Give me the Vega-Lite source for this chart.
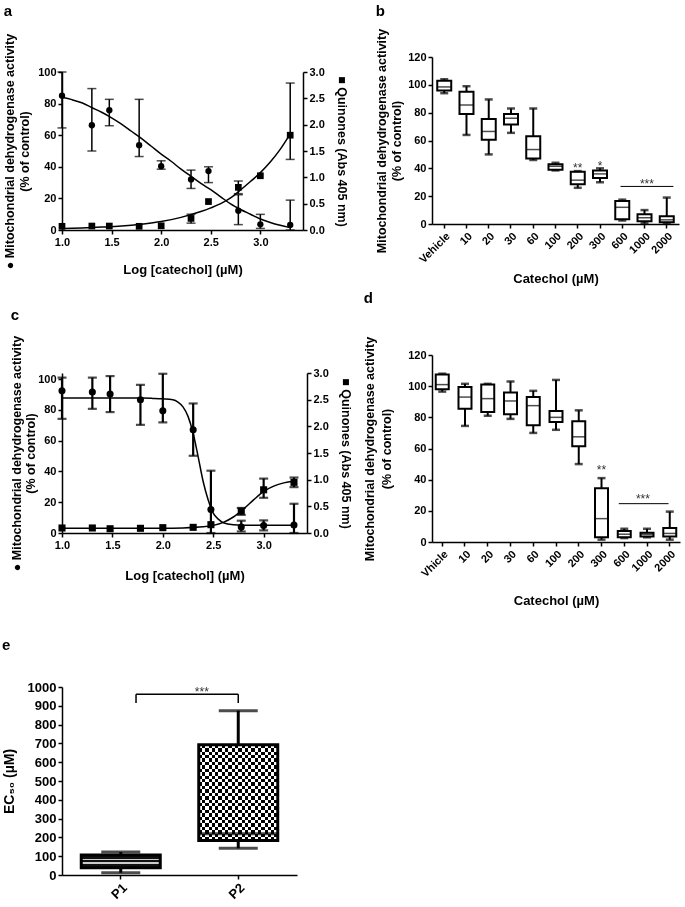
{
"$schema": "https://vega.github.io/schema/vega-lite/v6.json",
"background": "white",
"padding": {"left": 2, "top": 2, "right": 2, "bottom": 0},
"config": {
  "font": "Liberation Sans",
  "view": {"stroke": null},
  "axis": {"domainColor": "black", "domainWidth": 1.5, "tickColor": "black", "tickWidth": 1.5, "tickSize": 4, "labelColor": "black", "labelFont": "Liberation Sans", "labelFontWeight": "bold", "labelFontSize": 11, "labelPadding": 2, "labelOverlap": false, "labelBound": false, "labelFlush": false, "titleColor": "black", "titleFont": "Liberation Sans", "titleFontWeight": "bold", "titleFontSize": 12.5, "grid": false},
  "title": {"anchor": "start", "frame": "bounds", "fontSize": 15, "fontWeight": "bold", "font": "Liberation Sans", "color": "black"}
},
"datasets": {
  "a_m": [
    {"logc": 1.0, "v": 85, "lo": 64.6, "hi": 100},
    {"logc": 1.301, "v": 66.3, "lo": 50, "hi": 89.5},
    {"logc": 1.477, "v": 75.8, "lo": 66, "hi": 82.7},
    {"logc": 1.778, "v": 53.7, "lo": 46.5, "hi": 82.7},
    {"logc": 2.0, "v": 40.4, "lo": 38.5, "hi": 43.8},
    {"logc": 2.301, "v": 32, "lo": 26.3, "hi": 37.9},
    {"logc": 2.477, "v": 37.3, "lo": 30, "hi": 40},
    {"logc": 2.778, "v": 12.2, "lo": 3.4, "hi": 22.3},
    {"logc": 3.0, "v": 3.6, "lo": 1, "hi": 9.9},
    {"logc": 3.301, "v": 3.2, "lo": 0, "hi": 18.9}
  ],
  "a_q": [
    {"logc": 1.0, "v": 0.07, "lo": null, "hi": null},
    {"logc": 1.301, "v": 0.075, "lo": null, "hi": null},
    {"logc": 1.477, "v": 0.075, "lo": null, "hi": null},
    {"logc": 1.778, "v": 0.07, "lo": null, "hi": null},
    {"logc": 2.0, "v": 0.08, "lo": null, "hi": null},
    {"logc": 2.301, "v": 0.22, "lo": 0.13, "hi": 0.3},
    {"logc": 2.477, "v": 0.54, "lo": null, "hi": null},
    {"logc": 2.778, "v": 0.81, "lo": 0.69, "hi": 0.93},
    {"logc": 3.0, "v": 1.03, "lo": null, "hi": null},
    {"logc": 3.301, "v": 1.8, "lo": 1.34, "hi": 2.79}
  ],
  "a_mfit": [
    {"logc": 1.0, "v": 84}, {"logc": 1.1, "v": 82.5}, {"logc": 1.2, "v": 80.5}, {"logc": 1.3, "v": 77.5},
    {"logc": 1.4, "v": 74.5}, {"logc": 1.5, "v": 71}, {"logc": 1.6, "v": 67}, {"logc": 1.7, "v": 62.5},
    {"logc": 1.8, "v": 58}, {"logc": 1.9, "v": 53}, {"logc": 2.0, "v": 48}, {"logc": 2.1, "v": 43.5},
    {"logc": 2.2, "v": 38.5}, {"logc": 2.3, "v": 34}, {"logc": 2.4, "v": 29.5}, {"logc": 2.5, "v": 25.5},
    {"logc": 2.6, "v": 21}, {"logc": 2.7, "v": 16.5}, {"logc": 2.8, "v": 13}, {"logc": 2.9, "v": 10},
    {"logc": 3.0, "v": 7}, {"logc": 3.1, "v": 4.8}, {"logc": 3.2, "v": 3}, {"logc": 3.3, "v": 1.5}
  ],
  "a_qfit": [
    {"logc": 1.0, "v": 0.03}, {"logc": 1.2, "v": 0.04}, {"logc": 1.4, "v": 0.055}, {"logc": 1.6, "v": 0.075},
    {"logc": 1.8, "v": 0.11}, {"logc": 2.0, "v": 0.16}, {"logc": 2.2, "v": 0.24}, {"logc": 2.4, "v": 0.35},
    {"logc": 2.5, "v": 0.42}, {"logc": 2.6, "v": 0.5}, {"logc": 2.7, "v": 0.61}, {"logc": 2.8, "v": 0.76},
    {"logc": 2.9, "v": 0.92}, {"logc": 3.0, "v": 1.09}, {"logc": 3.1, "v": 1.29}, {"logc": 3.2, "v": 1.53},
    {"logc": 3.3, "v": 1.82}
  ],
  "c_m": [
    {"logc": 1.0, "v": 92.4, "lo": 74.2, "hi": 101},
    {"logc": 1.301, "v": 91.6, "lo": 80.7, "hi": 101},
    {"logc": 1.477, "v": 90.3, "lo": 78.6, "hi": 102},
    {"logc": 1.778, "v": 86.6, "lo": 70.3, "hi": 96.3},
    {"logc": 2.0, "v": 79.4, "lo": 71.9, "hi": 103.5},
    {"logc": 2.301, "v": 67.1, "lo": 50.2, "hi": 84.2},
    {"logc": 2.477, "v": 15.2, "lo": 0, "hi": 40.5},
    {"logc": 2.778, "v": 3.9, "lo": 1, "hi": 8},
    {"logc": 3.0, "v": 4.8, "lo": 1.7, "hi": 8.2},
    {"logc": 3.301, "v": 5.2, "lo": 0, "hi": 19}
  ],
  "c_q": [
    {"logc": 1.0, "v": 0.094, "lo": null, "hi": null},
    {"logc": 1.301, "v": 0.094, "lo": null, "hi": null},
    {"logc": 1.477, "v": 0.08, "lo": null, "hi": null},
    {"logc": 1.778, "v": 0.088, "lo": null, "hi": null},
    {"logc": 2.0, "v": 0.1, "lo": null, "hi": null},
    {"logc": 2.301, "v": 0.106, "lo": null, "hi": null},
    {"logc": 2.477, "v": 0.156, "lo": null, "hi": null},
    {"logc": 2.778, "v": 0.41, "lo": 0.34, "hi": 0.47},
    {"logc": 3.0, "v": 0.81, "lo": 0.66, "hi": 1.02},
    {"logc": 3.301, "v": 0.95, "lo": 0.86, "hi": 1.04}
  ],
  "c_mfit": [
    {"logc": 1.0, "v": 87.8}, {"logc": 1.5, "v": 87.8}, {"logc": 1.8, "v": 87.7}, {"logc": 1.9, "v": 87.5},
    {"logc": 2.0, "v": 87.2}, {"logc": 2.1, "v": 86.6}, {"logc": 2.15, "v": 85.1}, {"logc": 2.2, "v": 82},
    {"logc": 2.25, "v": 75.8}, {"logc": 2.3, "v": 65}, {"logc": 2.35, "v": 49.7}, {"logc": 2.4, "v": 33.5},
    {"logc": 2.45, "v": 21.5}, {"logc": 2.5, "v": 12.9}, {"logc": 2.55, "v": 9}, {"logc": 2.6, "v": 6.7},
    {"logc": 2.7, "v": 5.4}, {"logc": 2.8, "v": 5.1}, {"logc": 3.0, "v": 5}, {"logc": 3.3, "v": 5}
  ],
  "c_qfit": [
    {"logc": 1.0, "v": 0.09}, {"logc": 2.0, "v": 0.09}, {"logc": 2.2, "v": 0.095}, {"logc": 2.4, "v": 0.115},
    {"logc": 2.5, "v": 0.143}, {"logc": 2.6, "v": 0.2}, {"logc": 2.7, "v": 0.3}, {"logc": 2.8, "v": 0.447},
    {"logc": 2.9, "v": 0.62}, {"logc": 3.0, "v": 0.78}, {"logc": 3.1, "v": 0.88}, {"logc": 3.2, "v": 0.94},
    {"logc": 3.3, "v": 0.97}
  ],
  "b_box": [
    {"cat": "Vehicle", "min": 94, "q1": 96, "med": 98.5, "q3": 103, "max": 104},
    {"cat": "10", "min": 64, "q1": 79, "med": 85.5, "q3": 95, "max": 99},
    {"cat": "20", "min": 50, "q1": 60.5, "med": 66.5, "q3": 75.5, "max": 89.5},
    {"cat": "30", "min": 65.5, "q1": 71.5, "med": 76, "q3": 79, "max": 83},
    {"cat": "60", "min": 46, "q1": 47, "med": 53.5, "q3": 63, "max": 83},
    {"cat": "100", "min": 38.5, "q1": 39, "med": 41.5, "q3": 43, "max": 44},
    {"cat": "200", "min": 26, "q1": 28.5, "med": 31.5, "q3": 37.5, "max": 38},
    {"cat": "300", "min": 30, "q1": 33, "med": 36, "q3": 38.5, "max": 40},
    {"cat": "600", "min": 2.5, "q1": 3.5, "med": 12, "q3": 16.5, "max": 17.5},
    {"cat": "1000", "min": 0.5, "q1": 2, "med": 4.5, "q3": 7, "max": 10},
    {"cat": "2000", "min": 0.5, "q1": 1.2, "med": 3, "q3": 5.5, "max": 19}
  ],
  "b_txt": [
    {"cat": "200", "y": 40, "label": "**"},
    {"cat": "300", "y": 42, "label": "*"}
  ],
  "b_sig": [
    {"from": "600", "to": "2000", "mid": "1000", "y": 27, "ty": 29, "label": "***"}
  ],
  "d_box": [
    {"cat": "Vhicle", "min": 96.5, "q1": 98, "med": 101, "q3": 107.5, "max": 108},
    {"cat": "10", "min": 74.5, "q1": 85.5, "med": 93, "q3": 99.5, "max": 101.5},
    {"cat": "20", "min": 81, "q1": 83.5, "med": 92, "q3": 101, "max": 101.5},
    {"cat": "30", "min": 79, "q1": 82, "med": 90.5, "q3": 96, "max": 103},
    {"cat": "60", "min": 70, "q1": 75, "med": 87.5, "q3": 93, "max": 97},
    {"cat": "100", "min": 72, "q1": 77, "med": 80, "q3": 84, "max": 104},
    {"cat": "200", "min": 50, "q1": 61.5, "med": 67.5, "q3": 77.5, "max": 84.5},
    {"cat": "300", "min": 1.5, "q1": 3, "med": 15, "q3": 34.5, "max": 41},
    {"cat": "600", "min": 2.5, "q1": 3, "med": 5, "q3": 7, "max": 8.5},
    {"cat": "1000", "min": 3, "q1": 3.5, "med": 5, "q3": 6, "max": 8.5},
    {"cat": "2000", "min": 1.5, "q1": 3.5, "med": 5.5, "q3": 9, "max": 19.5}
  ],
  "d_txt": [
    {"cat": "300", "y": 46, "label": "**"}
  ],
  "d_sig": [
    {"from": "600", "to": "2000", "mid": "1000", "y": 24.6, "ty": 27.5, "label": "***"}
  ],
  "e_box": [
    {"grp": "P1", "min": 12, "q1": 39, "med": 75, "q3": 107, "max": 122},
    {"grp": "P2", "min": 142, "q1": 183, "med": 220, "q3": 693, "max": 874}
  ],
  "e_sig": [
    {"from": "P1", "to": "P2", "y": 962, "y0": 915, "ty": 975, "label": "***"}
  ],
  "blank": [{"k": ""}]
},
"concat": [
  {
    "concat": [
      {"data": {"name": "blank"}, "width": 1, "height": 1, "mark": {"type": "text", "text": "", "size": 1}, "encoding": {}},
      {
        "concat": [
          {
            "concat": [
              {
                "title": {"text": "a", "offset": 14},
                "width": 241, "height": 158,
                "resolve": {"scale": {"y": "independent"}},
                "layer": [
                  {"layer": [
                    {"data": {"name": "a_mfit"}, "mark": {"type": "line", "color": "black", "strokeWidth": 1.5, "interpolate": "monotone"},
                     "encoding": {
                       "x": {"field": "logc", "type": "quantitative", "scale": {"domain": [1, 3.43], "nice": false, "zero": false}, "axis": {"values": [1, 1.5, 2, 2.5, 3], "tickCount": 30, "format": ".1f", "title": "Log [catechol] (µM)", "titleFontSize": 13, "titlePadding": 16}},
                       "y": {"field": "v", "type": "quantitative", "scale": {"domain": [0, 100], "nice": false}, "axis": {"values": [0, 20, 40, 60, 80, 100], "tickCount": 30, "title": ["● Mitochondrial dehydrogenase activity", "(% of control)"], "titlePadding": 6, "titleLineHeight": 15}}}},
                    {"data": {"name": "a_m"}, "mark": {"type": "rule", "color": "black", "strokeWidth": 1.5},
                     "encoding": {"x": {"field": "logc", "type": "quantitative", "scale": {"domain": [1, 3.43], "nice": false, "zero": false}}, "y": {"field": "lo", "type": "quantitative", "scale": {"domain": [0, 100], "nice": false}}, "y2": {"field": "hi"}}},
                    {"data": {"name": "a_m"}, "mark": {"type": "tick", "color": "black", "size": 9, "thickness": 1.5, "orient": "horizontal"},
                     "encoding": {"x": {"field": "logc", "type": "quantitative", "scale": {"domain": [1, 3.43], "nice": false, "zero": false}}, "y": {"field": "lo", "type": "quantitative", "scale": {"domain": [0, 100], "nice": false}}}},
                    {"data": {"name": "a_m"}, "mark": {"type": "tick", "color": "black", "size": 9, "thickness": 1.5, "orient": "horizontal"},
                     "encoding": {"x": {"field": "logc", "type": "quantitative", "scale": {"domain": [1, 3.43], "nice": false, "zero": false}}, "y": {"field": "hi", "type": "quantitative", "scale": {"domain": [0, 100], "nice": false}}}},
                    {"data": {"name": "a_m"}, "mark": {"type": "point", "shape": "circle", "filled": true, "color": "black", "opacity": 1, "size": 40},
                     "encoding": {"x": {"field": "logc", "type": "quantitative", "scale": {"domain": [1, 3.43], "nice": false, "zero": false}}, "y": {"field": "v", "type": "quantitative", "scale": {"domain": [0, 100], "nice": false}}}}
                  ]},
                  {"layer": [
                    {"data": {"name": "a_qfit"}, "mark": {"type": "line", "color": "black", "strokeWidth": 1.5, "interpolate": "monotone"},
                     "encoding": {
                       "x": {"field": "logc", "type": "quantitative", "scale": {"domain": [1, 3.43], "nice": false, "zero": false}},
                       "y": {"field": "v", "type": "quantitative", "scale": {"domain": [0, 3], "nice": false}, "axis": {"orient": "right", "values": [0, 0.5, 1, 1.5, 2, 2.5, 3], "tickCount": 30, "format": ".1f", "title": "■ Quinones (Abs 405 nm)", "titlePadding": 10}}}},
                    {"data": {"name": "a_q"}, "transform": [{"filter": "isValid(datum.lo)"}], "mark": {"type": "rule", "color": "black", "strokeWidth": 1.5},
                     "encoding": {"x": {"field": "logc", "type": "quantitative", "scale": {"domain": [1, 3.43], "nice": false, "zero": false}}, "y": {"field": "lo", "type": "quantitative", "scale": {"domain": [0, 3], "nice": false}}, "y2": {"field": "hi"}}},
                    {"data": {"name": "a_q"}, "transform": [{"filter": "isValid(datum.lo)"}], "mark": {"type": "tick", "color": "black", "size": 9, "thickness": 1.5, "orient": "horizontal"},
                     "encoding": {"x": {"field": "logc", "type": "quantitative", "scale": {"domain": [1, 3.43], "nice": false, "zero": false}}, "y": {"field": "lo", "type": "quantitative", "scale": {"domain": [0, 3], "nice": false}}}},
                    {"data": {"name": "a_q"}, "transform": [{"filter": "isValid(datum.hi)"}], "mark": {"type": "tick", "color": "black", "size": 9, "thickness": 1.5, "orient": "horizontal"},
                     "encoding": {"x": {"field": "logc", "type": "quantitative", "scale": {"domain": [1, 3.43], "nice": false, "zero": false}}, "y": {"field": "hi", "type": "quantitative", "scale": {"domain": [0, 3], "nice": false}}}},
                    {"data": {"name": "a_q"}, "mark": {"type": "point", "shape": "square", "filled": true, "color": "black", "opacity": 1, "size": 45},
                     "encoding": {"x": {"field": "logc", "type": "quantitative", "scale": {"domain": [1, 3.43], "nice": false, "zero": false}}, "y": {"field": "v", "type": "quantitative", "scale": {"domain": [0, 3], "nice": false}}}}
                  ]}
                ]
              },
              {
                "title": {"text": "c", "offset": 12},
                "width": 245, "height": 160,
                "resolve": {"scale": {"y": "independent"}},
                "layer": [
                  {"layer": [
                    {"data": {"name": "c_mfit"}, "mark": {"type": "line", "color": "black", "strokeWidth": 1.5, "interpolate": "monotone"},
                     "encoding": {
                       "x": {"field": "logc", "type": "quantitative", "scale": {"domain": [1, 3.43], "nice": false, "zero": false}, "axis": {"values": [1, 1.5, 2, 2.5, 3], "tickCount": 30, "format": ".1f", "title": "Log [catechol] (µM)", "titleFontSize": 13, "titlePadding": 19}},
                       "y": {"field": "v", "type": "quantitative", "scale": {"domain": [0, 104], "nice": false}, "axis": {"values": [0, 20, 40, 60, 80, 100], "tickCount": 30, "title": ["● Mitochondrial dehydrogenase activity", "(% of control)"], "titlePadding": 0, "titleLineHeight": 14}}}},
                    {"data": {"name": "c_m"}, "mark": {"type": "rule", "color": "black", "strokeWidth": 2.2},
                     "encoding": {"x": {"field": "logc", "type": "quantitative", "scale": {"domain": [1, 3.43], "nice": false, "zero": false}}, "y": {"field": "lo", "type": "quantitative", "scale": {"domain": [0, 104], "nice": false}}, "y2": {"field": "hi"}}},
                    {"data": {"name": "c_m"}, "mark": {"type": "tick", "color": "black", "size": 9, "thickness": 2.2, "orient": "horizontal"},
                     "encoding": {"x": {"field": "logc", "type": "quantitative", "scale": {"domain": [1, 3.43], "nice": false, "zero": false}}, "y": {"field": "lo", "type": "quantitative", "scale": {"domain": [0, 104], "nice": false}}}},
                    {"data": {"name": "c_m"}, "mark": {"type": "tick", "color": "black", "size": 9, "thickness": 2.2, "orient": "horizontal"},
                     "encoding": {"x": {"field": "logc", "type": "quantitative", "scale": {"domain": [1, 3.43], "nice": false, "zero": false}}, "y": {"field": "hi", "type": "quantitative", "scale": {"domain": [0, 104], "nice": false}}}},
                    {"data": {"name": "c_m"}, "mark": {"type": "point", "shape": "circle", "filled": true, "color": "black", "opacity": 1, "size": 50},
                     "encoding": {"x": {"field": "logc", "type": "quantitative", "scale": {"domain": [1, 3.43], "nice": false, "zero": false}}, "y": {"field": "v", "type": "quantitative", "scale": {"domain": [0, 104], "nice": false}}}}
                  ]},
                  {"layer": [
                    {"data": {"name": "c_qfit"}, "mark": {"type": "line", "color": "black", "strokeWidth": 1.5, "interpolate": "monotone"},
                     "encoding": {
                       "x": {"field": "logc", "type": "quantitative", "scale": {"domain": [1, 3.43], "nice": false, "zero": false}},
                       "y": {"field": "v", "type": "quantitative", "scale": {"domain": [0, 3], "nice": false}, "axis": {"orient": "right", "values": [0, 0.5, 1, 1.5, 2, 2.5, 3], "tickCount": 30, "format": ".1f", "title": "■ Quinones (Abs 405 nm)", "titlePadding": 10}}}},
                    {"data": {"name": "c_q"}, "transform": [{"filter": "isValid(datum.lo)"}], "mark": {"type": "rule", "color": "black", "strokeWidth": 2.2},
                     "encoding": {"x": {"field": "logc", "type": "quantitative", "scale": {"domain": [1, 3.43], "nice": false, "zero": false}}, "y": {"field": "lo", "type": "quantitative", "scale": {"domain": [0, 3], "nice": false}}, "y2": {"field": "hi"}}},
                    {"data": {"name": "c_q"}, "transform": [{"filter": "isValid(datum.lo)"}], "mark": {"type": "tick", "color": "black", "size": 9, "thickness": 2.2, "orient": "horizontal"},
                     "encoding": {"x": {"field": "logc", "type": "quantitative", "scale": {"domain": [1, 3.43], "nice": false, "zero": false}}, "y": {"field": "lo", "type": "quantitative", "scale": {"domain": [0, 3], "nice": false}}}},
                    {"data": {"name": "c_q"}, "transform": [{"filter": "isValid(datum.hi)"}], "mark": {"type": "tick", "color": "black", "size": 9, "thickness": 2.2, "orient": "horizontal"},
                     "encoding": {"x": {"field": "logc", "type": "quantitative", "scale": {"domain": [1, 3.43], "nice": false, "zero": false}}, "y": {"field": "hi", "type": "quantitative", "scale": {"domain": [0, 3], "nice": false}}}},
                    {"data": {"name": "c_q"}, "mark": {"type": "point", "shape": "square", "filled": true, "color": "black", "opacity": 1, "size": 50},
                     "encoding": {"x": {"field": "logc", "type": "quantitative", "scale": {"domain": [1, 3.43], "nice": false, "zero": false}}, "y": {"field": "v", "type": "quantitative", "scale": {"domain": [0, 3], "nice": false}}}}
                  ]}
                ]
              }
            ],
            "columns": 1, "spacing": 32, "align": "none"
          },
          {
            "title": {"text": "e", "offset": 28},
            "width": 235, "height": 188,
            "data": {"name": "e_box"},
            "encoding": {"x": {"field": "grp", "type": "nominal", "scale": {"domain": ["P1", "P2"], "paddingInner": 0, "paddingOuter": 0}, "axis": {"labelAngle": -45, "title": null, "labelFontSize": 13}}},
            "layer": [
              {"mark": {"type": "rule", "color": "black", "strokeWidth": 3},
               "encoding": {"y": {"field": "min", "type": "quantitative", "scale": {"domain": [0, 1000], "nice": false}, "axis": {"values": [0, 100, 200, 300, 400, 500, 600, 700, 800, 900, 1000], "tickCount": 30, "format": "d", "title": "EC₅₀ (µM)", "titleFontSize": 14, "titlePadding": 11, "labelFontSize": 13}}, "y2": {"field": "max"}}},
              {"transform": [{"filter": "datum.grp == 'P1'"}],
               "mark": {"type": "bar", "size": 79, "fill": {"gradient": "linear", "x1": 0, "y1": 0, "x2": 0, "y2": 1, "stops": [{"offset": 0, "color": "#111"}, {"offset": 0.3, "color": "#111"}, {"offset": 0.3, "color": "#ccc"}, {"offset": 0.42, "color": "#ccc"}, {"offset": 0.42, "color": "#111"}, {"offset": 0.58, "color": "#111"}, {"offset": 0.58, "color": "#ccc"}, {"offset": 0.7, "color": "#ccc"}, {"offset": 0.7, "color": "#111"}, {"offset": 1, "color": "#111"}]}},
               "encoding": {"y": {"field": "q1", "type": "quantitative"}, "y2": {"field": "q3"}}},
              {"transform": [{"filter": "datum.grp == 'P2'"}],
               "mark": {"type": "bar", "size": 79, "fill": {"gradient": "linear", "x1": 0, "y1": 0, "x2": 0, "y2": 1, "stops": [
                 {"offset": 0, "color": "#000"}, {"offset": 0.0357, "color": "#000"}, {"offset": 0.0357, "color": "#fff"}, {"offset": 0.0714, "color": "#fff"},
                 {"offset": 0.0714, "color": "#000"}, {"offset": 0.1071, "color": "#000"}, {"offset": 0.1071, "color": "#fff"}, {"offset": 0.1429, "color": "#fff"},
                 {"offset": 0.1429, "color": "#000"}, {"offset": 0.1786, "color": "#000"}, {"offset": 0.1786, "color": "#fff"}, {"offset": 0.2143, "color": "#fff"},
                 {"offset": 0.2143, "color": "#000"}, {"offset": 0.25, "color": "#000"}, {"offset": 0.25, "color": "#fff"}, {"offset": 0.2857, "color": "#fff"},
                 {"offset": 0.2857, "color": "#000"}, {"offset": 0.3214, "color": "#000"}, {"offset": 0.3214, "color": "#fff"}, {"offset": 0.3571, "color": "#fff"},
                 {"offset": 0.3571, "color": "#000"}, {"offset": 0.3929, "color": "#000"}, {"offset": 0.3929, "color": "#fff"}, {"offset": 0.4286, "color": "#fff"},
                 {"offset": 0.4286, "color": "#000"}, {"offset": 0.4643, "color": "#000"}, {"offset": 0.4643, "color": "#fff"}, {"offset": 0.5, "color": "#fff"},
                 {"offset": 0.5, "color": "#000"}, {"offset": 0.5357, "color": "#000"}, {"offset": 0.5357, "color": "#fff"}, {"offset": 0.5714, "color": "#fff"},
                 {"offset": 0.5714, "color": "#000"}, {"offset": 0.6071, "color": "#000"}, {"offset": 0.6071, "color": "#fff"}, {"offset": 0.6429, "color": "#fff"},
                 {"offset": 0.6429, "color": "#000"}, {"offset": 0.6786, "color": "#000"}, {"offset": 0.6786, "color": "#fff"}, {"offset": 0.7143, "color": "#fff"},
                 {"offset": 0.7143, "color": "#000"}, {"offset": 0.75, "color": "#000"}, {"offset": 0.75, "color": "#fff"}, {"offset": 0.7857, "color": "#fff"},
                 {"offset": 0.7857, "color": "#000"}, {"offset": 0.8214, "color": "#000"}, {"offset": 0.8214, "color": "#fff"}, {"offset": 0.8571, "color": "#fff"},
                 {"offset": 0.8571, "color": "#000"}, {"offset": 0.8929, "color": "#000"}, {"offset": 0.8929, "color": "#fff"}, {"offset": 0.9286, "color": "#fff"},
                 {"offset": 0.9286, "color": "#000"}, {"offset": 0.9643, "color": "#000"}, {"offset": 0.9643, "color": "#fff"}, {"offset": 1, "color": "#fff"}]}},
               "encoding": {"y": {"field": "q1", "type": "quantitative"}, "y2": {"field": "q3"}}},
              {"transform": [{"filter": "datum.grp == 'P2'"}],
               "mark": {"type": "bar", "size": 79, "blend": "difference", "fill": {"gradient": "linear", "x1": 0, "y1": 0, "x2": 1, "y2": 0, "stops": [
                 {"offset": 0, "color": "#fff"}, {"offset": 0.0417, "color": "#fff"}, {"offset": 0.0417, "color": "#000"}, {"offset": 0.0833, "color": "#000"},
                 {"offset": 0.0833, "color": "#fff"}, {"offset": 0.125, "color": "#fff"}, {"offset": 0.125, "color": "#000"}, {"offset": 0.1667, "color": "#000"},
                 {"offset": 0.1667, "color": "#fff"}, {"offset": 0.2083, "color": "#fff"}, {"offset": 0.2083, "color": "#000"}, {"offset": 0.25, "color": "#000"},
                 {"offset": 0.25, "color": "#fff"}, {"offset": 0.2917, "color": "#fff"}, {"offset": 0.2917, "color": "#000"}, {"offset": 0.3333, "color": "#000"},
                 {"offset": 0.3333, "color": "#fff"}, {"offset": 0.375, "color": "#fff"}, {"offset": 0.375, "color": "#000"}, {"offset": 0.4167, "color": "#000"},
                 {"offset": 0.4167, "color": "#fff"}, {"offset": 0.4583, "color": "#fff"}, {"offset": 0.4583, "color": "#000"}, {"offset": 0.5, "color": "#000"},
                 {"offset": 0.5, "color": "#fff"}, {"offset": 0.5417, "color": "#fff"}, {"offset": 0.5417, "color": "#000"}, {"offset": 0.5833, "color": "#000"},
                 {"offset": 0.5833, "color": "#fff"}, {"offset": 0.625, "color": "#fff"}, {"offset": 0.625, "color": "#000"}, {"offset": 0.6667, "color": "#000"},
                 {"offset": 0.6667, "color": "#fff"}, {"offset": 0.7083, "color": "#fff"}, {"offset": 0.7083, "color": "#000"}, {"offset": 0.75, "color": "#000"},
                 {"offset": 0.75, "color": "#fff"}, {"offset": 0.7917, "color": "#fff"}, {"offset": 0.7917, "color": "#000"}, {"offset": 0.8333, "color": "#000"},
                 {"offset": 0.8333, "color": "#fff"}, {"offset": 0.875, "color": "#fff"}, {"offset": 0.875, "color": "#000"}, {"offset": 0.9167, "color": "#000"},
                 {"offset": 0.9167, "color": "#fff"}, {"offset": 0.9583, "color": "#fff"}, {"offset": 0.9583, "color": "#000"}, {"offset": 1, "color": "#000"}]}},
               "encoding": {"y": {"field": "q1", "type": "quantitative"}, "y2": {"field": "q3"}}},
              {"mark": {"type": "bar", "size": 79, "fillOpacity": 0, "stroke": "black", "strokeWidth": 3},
               "encoding": {"y": {"field": "q1", "type": "quantitative"}, "y2": {"field": "q3"}}},
              {"transform": [{"filter": "datum.grp == 'P2'"}], "mark": {"type": "tick", "color": "black", "size": 79, "thickness": 3, "orient": "horizontal"},
               "encoding": {"y": {"field": "med", "type": "quantitative"}}},
              {"mark": {"type": "tick", "color": "black", "size": 39, "thickness": 3, "orient": "horizontal"},
               "encoding": {"y": {"field": "min", "type": "quantitative"}}},
              {"mark": {"type": "tick", "color": "black", "size": 39, "thickness": 3, "orient": "horizontal"},
               "encoding": {"y": {"field": "max", "type": "quantitative"}}},
              {"data": {"name": "e_sig"}, "mark": {"type": "rule", "color": "black", "strokeWidth": 1.5},
               "encoding": {"x": {"field": "from", "type": "nominal", "bandPosition": 0.63}, "x2": {"field": "to", "bandPosition": 0.5}, "y": {"field": "y", "type": "quantitative"}}},
              {"data": {"name": "e_sig"}, "mark": {"type": "rule", "color": "black", "strokeWidth": 1.5},
               "encoding": {"x": {"field": "from", "type": "nominal", "bandPosition": 0.63}, "y": {"field": "y0", "type": "quantitative"}, "y2": {"field": "y"}}},
              {"data": {"name": "e_sig"}, "mark": {"type": "rule", "color": "black", "strokeWidth": 1.5},
               "encoding": {"x": {"field": "to", "type": "nominal", "bandPosition": 0.5}, "y": {"field": "y0", "type": "quantitative"}, "y2": {"field": "y"}}},
              {"data": {"name": "e_sig"}, "mark": {"type": "text", "fontSize": 12, "color": "#333", "baseline": "middle"},
               "encoding": {"x": {"field": "to", "type": "nominal", "bandPosition": 0.19}, "y": {"field": "ty", "type": "quantitative"}, "text": {"field": "label"}}}
            ]
          }
        ],
        "columns": 1, "spacing": 56, "align": "none"
      }
    ],
    "columns": 1, "spacing": 0, "align": "none"
  },
  {
    "concat": [
      {"data": {"name": "blank"}, "width": 1, "height": 1, "mark": {"type": "text", "text": "", "size": 1}, "encoding": {}},
      {
        "concat": [
          {
            "title": {"text": "b", "offset": 9},
            "width": 247, "height": 167,
            "data": {"name": "b_box"},
            "encoding": {"x": {"field": "cat", "type": "nominal", "sort": null, "scale": {"domain": ["Vehicle", "10", "20", "30", "60", "100", "200", "300", "600", "1000", "2000"], "paddingInner": 0.4, "paddingOuter": 0.25}, "axis": {"labelAngle": -45, "title": "Catechol (µM)", "titleFontSize": 13, "titlePadding": 8}}},
            "layer": [
              {"mark": {"type": "rule", "color": "black", "strokeWidth": 2},
               "encoding": {"y": {"field": "min", "type": "quantitative", "scale": {"domain": [0, 120], "nice": false}, "axis": {"values": [0, 20, 40, 60, 80, 100, 120], "tickCount": 30, "title": ["Mitochondrial dehydrogenase activity", "(% of control)"], "titlePadding": 4, "titleLineHeight": 15}}, "y2": {"field": "max"}}},
              {"mark": {"type": "bar", "size": 14, "fill": "white", "stroke": "black", "strokeWidth": 2},
               "encoding": {"y": {"field": "q1", "type": "quantitative"}, "y2": {"field": "q3"}}},
              {"mark": {"type": "tick", "color": "black", "size": 14, "thickness": 1.5, "orient": "horizontal"},
               "encoding": {"y": {"field": "med", "type": "quantitative"}}},
              {"mark": {"type": "tick", "color": "black", "size": 8, "thickness": 2.5, "orient": "horizontal"},
               "encoding": {"y": {"field": "min", "type": "quantitative"}}},
              {"mark": {"type": "tick", "color": "black", "size": 8, "thickness": 2.5, "orient": "horizontal"},
               "encoding": {"y": {"field": "max", "type": "quantitative"}}},
              {"data": {"name": "b_txt"}, "mark": {"type": "text", "fontSize": 12, "color": "#333", "baseline": "middle"},
               "encoding": {"x": {"field": "cat", "type": "nominal"}, "y": {"field": "y", "type": "quantitative"}, "text": {"field": "label"}}},
              {"data": {"name": "b_sig"}, "mark": {"type": "rule", "color": "black", "strokeWidth": 1},
               "encoding": {"x": {"field": "from", "type": "nominal", "bandPosition": 0.37}, "x2": {"field": "to", "bandPosition": 1.0}, "y": {"field": "y", "type": "quantitative"}}},
              {"data": {"name": "b_sig"}, "mark": {"type": "text", "fontSize": 12, "color": "#333", "baseline": "middle"},
               "encoding": {"x": {"field": "mid", "type": "nominal", "bandPosition": 0.68}, "y": {"field": "ty", "type": "quantitative"}, "text": {"field": "label"}}}
            ]
          },
          {
            "title": {"text": "d", "offset": 30},
            "width": 248, "height": 187,
            "data": {"name": "d_box"},
            "encoding": {"x": {"field": "cat", "type": "nominal", "sort": null, "scale": {"domain": ["Vhicle", "10", "20", "30", "60", "100", "200", "300", "600", "1000", "2000"], "paddingInner": 0.4, "paddingOuter": 0.15}, "axis": {"labelAngle": -45, "title": "Catechol (µM)", "titleFontSize": 13, "titlePadding": 16}}},
            "layer": [
              {"mark": {"type": "rule", "color": "black", "strokeWidth": 2},
               "encoding": {"y": {"field": "min", "type": "quantitative", "scale": {"domain": [0, 120], "nice": false}, "axis": {"values": [0, 20, 40, 60, 80, 100, 120], "tickCount": 30, "title": ["Mitochondrial dehydrogenase activity", "(% of control)"], "titlePadding": 14, "titleLineHeight": 17}}, "y2": {"field": "max"}}},
              {"mark": {"type": "bar", "size": 13, "fill": "white", "stroke": "black", "strokeWidth": 2},
               "encoding": {"y": {"field": "q1", "type": "quantitative"}, "y2": {"field": "q3"}}},
              {"mark": {"type": "tick", "color": "black", "size": 13, "thickness": 1.5, "orient": "horizontal"},
               "encoding": {"y": {"field": "med", "type": "quantitative"}}},
              {"mark": {"type": "tick", "color": "black", "size": 8, "thickness": 2.5, "orient": "horizontal"},
               "encoding": {"y": {"field": "min", "type": "quantitative"}}},
              {"mark": {"type": "tick", "color": "black", "size": 8, "thickness": 2.5, "orient": "horizontal"},
               "encoding": {"y": {"field": "max", "type": "quantitative"}}},
              {"data": {"name": "d_txt"}, "mark": {"type": "text", "fontSize": 12, "color": "#333", "baseline": "middle"},
               "encoding": {"x": {"field": "cat", "type": "nominal"}, "y": {"field": "y", "type": "quantitative"}, "text": {"field": "label"}}},
              {"data": {"name": "d_sig"}, "mark": {"type": "rule", "color": "black", "strokeWidth": 1},
               "encoding": {"x": {"field": "from", "type": "nominal", "bandPosition": 0.1}, "x2": {"field": "to", "bandPosition": 0.41}, "y": {"field": "y", "type": "quantitative"}}},
              {"data": {"name": "d_sig"}, "mark": {"type": "text", "fontSize": 12, "color": "#333", "baseline": "middle"},
               "encoding": {"x": {"field": "mid", "type": "nominal", "bandPosition": 0.2}, "y": {"field": "ty", "type": "quantitative"}, "text": {"field": "label"}}}
            ]
          }
        ],
        "columns": 1, "spacing": 5, "align": "none"
      }
    ],
    "columns": 1, "spacing": 0, "align": "none"
  }
],
"columns": 2, "spacing": 11, "align": "none"
}
